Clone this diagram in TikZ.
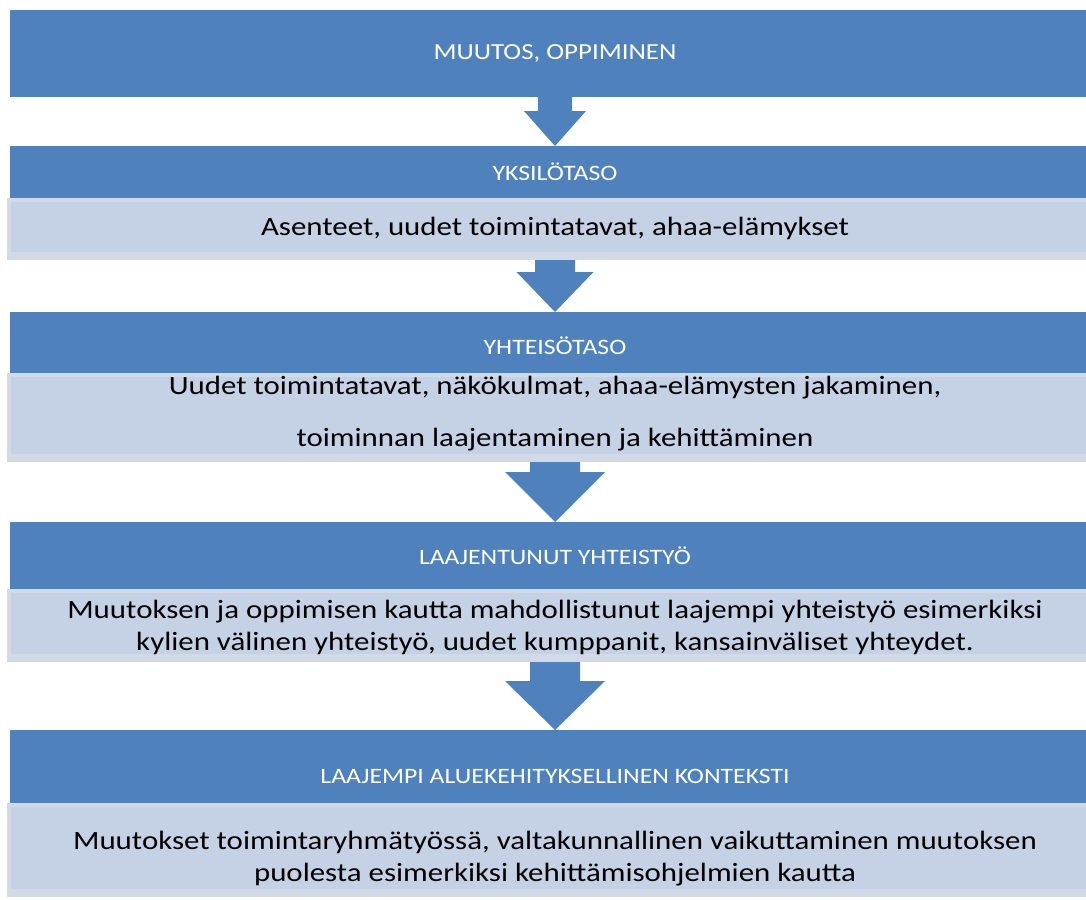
\documentclass[tikz,border=0pt]{standalone}
\usepackage{fontspec}
\setmainfont{Carlito}[FakeStretch=1.17]
\usetikzlibrary{calc}

\definecolor{officeblue}{HTML}{4F81BD}
\definecolor{lightbody}{HTML}{C5D1E4}
\definecolor{lightrim}{HTML}{D2D9E7}

\tikzset{
    header/.style = {fill=officeblue, text=white, minimum width=1090pt,
        inner sep=0pt, outer sep=0pt, font=\fontsize{22}{26}\selectfont},
    bodybox/.style = {fill=lightrim, minimum width=1093pt, inner sep=0pt, outer sep=0pt,
        path picture={\fill[lightbody]
            ([xshift=4pt,yshift=-4pt]path picture bounding box.north west)
            rectangle ([yshift=8pt]path picture bounding box.south east);}},
    bodytext/.style = {align=center, inner sep=0pt, font=\fontsize{26.4}{32}\selectfont},
    arrowfill/.style = {fill=officeblue}
}

% block arrow: start, tip, half shaft, half head, head length
\newcommand{\flowarrow}[5]{%
    \fill[arrowfill] ($(#1)+(-#3,0)$) -- ($(#2)+(-#3,-#5)$) -- ($(#2)+(-#4,-#5)$)
        -- (#2) -- ($(#2)+(#4,-#5)$) -- ($(#2)+(#3,-#5)$) -- ($(#1)+(#3,0)$) -- cycle;}

\begin{document}
\begin{tikzpicture}[
        x = 1pt,
        y = -1pt
    ]
    \clip (0, 0) rectangle (1086, 899);

    \node[header, minimum height=87pt] (h1) at (555, 53.5)
        {\fontsize{23}{28}\selectfont MUUTOS, OPPIMINEN};

    \node[header, minimum height=52pt] (h2) at (555, 172) {YKSILÖTASO};
    \node[bodybox, minimum height=62pt] (b2) at (553.5, 229) {};
    \node[bodytext] (t2) at (555, 228) {Asenteet, uudet toimintatavat, ahaa-elämykset};

    \node[header, minimum height=61pt, text height=23pt, text depth=0pt] (h3) at (555, 342.5) {YHTEISÖTASO};
    \node[bodybox, minimum height=89pt] (b3) at (553.5, 417.5) {};
    \node[bodytext] (t3) at (555, 414)
        {Uudet toimintatavat, näkökulmat, ahaa-elämysten jakaminen,\\[20pt]
         toiminnan laajentaminen ja kehittäminen};

    \node[header, minimum height=67pt] (h4) at (555, 555.5) {LAAJENTUNUT YHTEISTYÖ};
    \node[bodybox, minimum height=73pt] (b4) at (553.5, 625.5) {};
    \node[bodytext] (t4) at (555, 627.5)
        {Muutoksen ja oppimisen kautta mahdollistunut laajempi yhteistyö esimerkiksi\\
         kylien välinen yhteistyö, uudet kumppanit, kansainväliset yhteydet.};

    \node[header, minimum height=73pt, text height=33pt, text depth=0pt] (h5) at (555, 766.5)
        {LAAJEMPI ALUEKEHITYKSELLINEN KONTEKSTI};
    \node[bodybox, minimum height=94pt] (b5) at (553.5, 850) {};
    \node[bodytext] (t5) at (555, 858.5)
        {Muutokset toimintaryhmätyössä, valtakunnallinen vaikuttaminen muutoksen\\
         puolesta esimerkiksi kehittämisohjelmien kautta};

    % arrows between the levels
    \coordinate (a2) at (b2.south -| h3.north);
    \coordinate (a3) at (b3.south -| h4.north);
    \coordinate (a4) at (b4.south -| h5.north);
    \flowarrow{h1.south}{h2.north}{17}{31}{35}
    \flowarrow{a2}{h3.north}{20}{38.5}{40}
    \flowarrow{a3}{h4.north}{25}{50}{50}
    \flowarrow{a4}{h5.north}{25}{50}{49}
\end{tikzpicture}
\end{document}
